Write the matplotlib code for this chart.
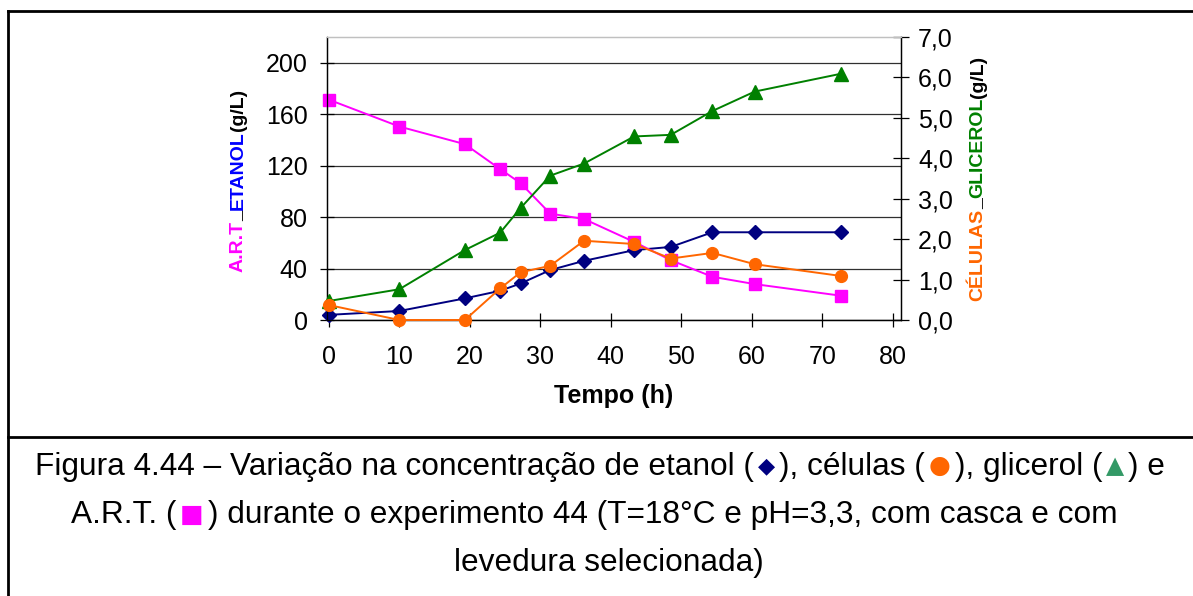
import matplotlib
matplotlib.use('Agg')
import matplotlib.pyplot as plt
from matplotlib.lines import Line2D
from matplotlib.ticker import FuncFormatter

plt.rcParams['font.family'] = ['Liberation Sans', 'DejaVu Sans']

# ---- data ----
time_h = [0, 10, 19.3, 24.3, 27.2, 31.4, 36.2, 43.3, 48.5, 54.4, 60.4, 72.6]
etanol = [4, 7, 16.8, 22.7, 28.4, 38.8, 46, 54.3, 56.8, 68.2, 68.2, 68.2]          # g/L (left)
art = [171.3, 150.4, 136.7, 117.3, 106.4, 82.7, 78.5, 60.7, 46.5, 33.6, 27.9, 18.9]  # g/L (left)
glicerol = [0.47, 0.76, 1.73, 2.16, 2.77, 3.57, 3.87, 4.54, 4.58, 5.17, 5.65, 6.09]  # g/L (right)
celulas = [0.37, 0.0, 0.0, 0.78, 1.18, 1.34, 1.96, 1.88, 1.52, 1.66, 1.38, 1.09]     # g/L (right)

x_ticks = [0, 10, 20, 30, 40, 50, 60, 70, 80]
left_ticks = [0, 40, 80, 120, 160, 200]
right_ticks = [0, 1, 2, 3, 4, 5, 6, 7]

W, H = 1193, 596
fig = plt.figure(figsize=(W / 100, H / 100), dpi=100)
fig.patch.set_facecolor('white')

L, R, T, B = 327, 900.7, 37, 320
ax = fig.add_axes([L / W, 1 - B / H, (R - L) / W, (B - T) / H])
ax2 = ax.twinx()

ax.set_xlim(-0.25, 81.1)
ax.set_ylim(0, 220)
ax2.set_ylim(0, 7)

lw = 1.4
ax.plot(time_h, etanol, color='#000080', marker='D', markersize=7.5, lw=lw, clip_on=False, zorder=3)
ax.plot(time_h, art, color='#FF00FF', marker='s', markersize=8.5, lw=lw, clip_on=False, zorder=4)
ax2.plot(time_h, glicerol, color='#008000', marker='^', markersize=10, lw=lw, clip_on=False, zorder=3)
ax2.plot(time_h, celulas, color='#FF6600', marker='o', markersize=8.5, lw=lw, clip_on=False, zorder=4)

ax.set_xticks(x_ticks)
ax.set_yticks(left_ticks)
ax2.set_yticks(right_ticks)
ax2.yaxis.set_major_formatter(FuncFormatter(lambda v, p: f"{v:.1f}".replace('.', ',')))

ax.yaxis.grid(True, color='#303030', lw=0.9)
ax.set_axisbelow(True)

for a in (ax, ax2):
    for s in ('left', 'right', 'bottom'):
        a.spines[s].set_color('black')
        a.spines[s].set_linewidth(0.9)
    a.spines['top'].set_color('#C0C0C0')
    a.spines['top'].set_linewidth(0.9)

ax.tick_params(axis='both', direction='inout', length=10, width=0.9, labelsize=18)
ax.tick_params(axis='x', pad=13)
ax.tick_params(axis='y', pad=9)
ax2.tick_params(axis='y', direction='inout', length=11, width=0.9, labelsize=18, pad=7)

ax.set_xlabel('Tempo (h)', fontsize=18, fontweight='bold', labelpad=11)

renderer = fig.canvas.get_renderer()


def multicolor(pieces, cx, cy, size, weight='normal', vertical=False):
    """pieces: (text, color, family, size, gap_px, dy_px)"""
    texts, lens, dys = [], [], []
    for s, c, fam, sz, gap, dy in pieces:
        kw = dict(fontsize=sz or size, fontweight=weight, color=c,
                  rotation=90 if vertical else 0, rotation_mode='anchor',
                  ha='left', va='center' if vertical else 'baseline')
        if fam:
            kw['family'] = fam
        t = fig.text(0, 0, s, transform=None, **kw)
        bb = t.get_window_extent(renderer)
        texts.append((t, gap))
        lens.append((bb.height if vertical else bb.width) + 2 * gap)
        dys.append(dy)
    total = sum(lens)
    if vertical:
        pos = (H - cy) - total / 2
        for (t, gap), l in zip(texts, lens):
            t.set_position((cx, pos + gap))
            pos += l
    else:
        pos = cx - total / 2
        for (t, gap), l, dy in zip(texts, lens, dys):
            t.set_position((pos + gap, H - cy + dy))
            pos += l
    return texts


# rotated colored axis labels
multicolor([('A.R.T', '#FF00FF', None, None, 0, 0), ('_', 'black', None, None, 0, 0),
            ('ETANOL', '#0000FF', None, None, 0, 0), ('(g/L)', 'black', None, None, 0, 0)],
           238, 180.5, 14, 'bold', vertical=True)
multicolor([('CÉLULAS', '#FF6600', None, None, 0, 0), ('_', 'black', None, None, 0, 0),
            ('GLICEROL', '#008000', None, None, 0, 0), ('(g/L)', 'black', None, None, 0, 0)],
           978, 178.5, 14, 'bold', vertical=True)

# caption
sym = ['DejaVu Sans']
cap = 22.8
multicolor([('Figura 4.44 – Variação na concentração de etanol (', 'black', None, None, 0, 0),
            ('◆', '#000080', sym, 16, 4, 3), ('), células (', 'black', None, None, 0, 0),
            ('●', '#FF6600', sym, 18, 4, 2), ('), glicerol (', 'black', None, None, 0, 0),
            ('▲', '#339966', sym, 17, 4, 2), (') e', 'black', None, None, 0, 0)], 600, 475, cap)
multicolor([('A.R.T. (', 'black', None, None, 0, 0), ('■', '#FF00FF', sym, 18, 4, 1),
            (') durante o experimento 44 (T=18°C e pH=3,3, com casca e com', 'black', None, None, 0, 0)],
           594, 523, cap)
multicolor([('levedura selecionada)', 'black', None, None, 0, 0)], 609, 571, cap)

# frame lines
fig.add_artist(Line2D([8 / W, 8 / W], [0, 1 - 11 / H], transform=fig.transFigure, color='black', lw=2))
fig.add_artist(Line2D([8 / W, 1], [1 - 11 / H, 1 - 11 / H], transform=fig.transFigure, color='black', lw=2))
fig.add_artist(Line2D([8 / W, 1], [1 - 437 / H, 1 - 437 / H], transform=fig.transFigure, color='black', lw=2))

fig.savefig('out.png', dpi=100)
